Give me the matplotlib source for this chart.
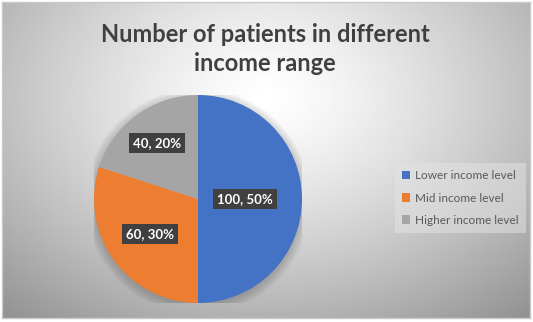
import matplotlib.pyplot as plt
import numpy as np
from matplotlib.patches import Circle

# patients per income group
groups = ['Lower income level', 'Mid income level', 'Higher income level']
patients = [100, 60, 40]
colors = ['#4472C4', '#ED7D31', '#A5A5A5']
label_dist = [0.45, 0.57, 0.67]

W, H = 533, 322
fig = plt.figure(figsize=(W / 100, H / 100), dpi=100)
fig.patch.set_facecolor('white')

# chart area with radial grey gradient
bg = fig.add_axes([2 / W, 4 / H, 528 / W, 316 / H])
yy, xx = np.mgrid[0:1:300j, 0:1:500j]
r = np.sqrt(((xx - 0.5) / 0.75) ** 2 + ((yy - 0.3) / 0.9) ** 2)
shade = 1.0 - 0.42 * np.clip(r, 0, 1) ** 1.3
bg.imshow(shade, cmap='gray', vmin=0, vmax=1, aspect='auto', extent=[0, 1, 1, 0],
          interpolation='bilinear')
bg.set_xticks([])
bg.set_yticks([])
for s in bg.spines.values():
    s.set_color('#c9c9c9')
    s.set_linewidth(1.0)

fig.text(0.497, 1 - 49 / H, 'Number of patients in different\nincome range', ha='center', va='center',
         fontsize=17, fontweight='bold', family='Lato', color='#404040', linespacing=1.32)

ax = fig.add_axes([94 / W, (H - 199 - 104) / H, 208 / W, 208 / H])
ax.set_xlim(-1, 1)
ax.set_ylim(-1, 1)
ax.set_aspect('equal')
ax.axis('off')

# soft shadow under the pie
for k in range(8):
    ax.add_patch(Circle((0, -0.02), 1.0 + 0.012 * k, color='black', alpha=0.025, lw=0, zorder=0))

wedges, _ = ax.pie(patients, colors=colors, startangle=90, counterclock=False, radius=1,
                   wedgeprops=dict(linewidth=0), frame=True)
ax.set_xlim(-1, 1)
ax.set_ylim(-1, 1)
ax.axis('off')

total = sum(patients)
for w, v, d in zip(wedges, patients, label_dist):
    ang = np.deg2rad((w.theta1 + w.theta2) / 2)
    ax.text(d * np.cos(ang), d * np.sin(ang), f'{v}, {round(100 * v / total)}%',
            ha='center', va='center', fontsize=9.5, fontweight='bold', family='Lato',
            color='white', zorder=5,
            bbox=dict(boxstyle='square,pad=0.3', facecolor='#404040', edgecolor='none'))

leg = fig.legend(wedges, groups, loc='center left', bbox_to_anchor=(389 / W, 1 - 198 / H),
                 frameon=True, prop=dict(family='Lato', size=8.5),
                 handlelength=0.7, handleheight=0.7, handletextpad=0.4, labelspacing=0.95,
                 borderpad=0.6, fancybox=False)
leg.get_frame().set_facecolor('#e4e4e4')
leg.get_frame().set_alpha(0.5)
leg.get_frame().set_edgecolor('none')
for t in leg.get_texts():
    t.set_color('#595959')

plt.savefig('out.png', dpi=100, facecolor='white')
